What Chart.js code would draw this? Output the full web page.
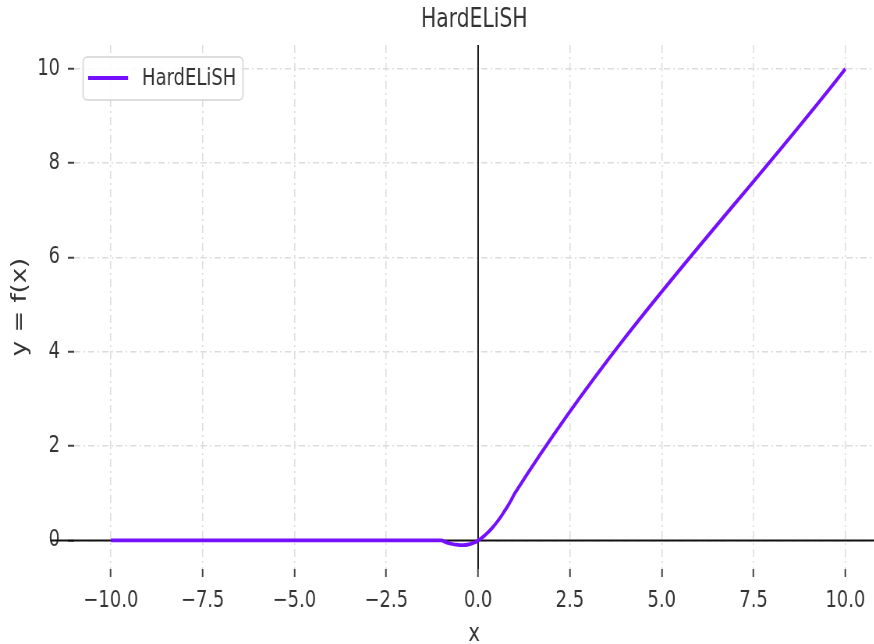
<!DOCTYPE html>
<html>
<head>
<meta charset="utf-8">
<script src="https://cdn.jsdelivr.net/npm/chart.js@4.4.1/dist/chart.umd.min.js"></script>
<style>
  html, body { margin: 0; padding: 0; background: #fff; overflow: hidden; }
  #wrap { width: 1121px; height: 644px; transform: scaleX(0.78); transform-origin: 0 0; }
</style>
</head>
<body>
<div id="wrap"><canvas id="c" width="1121" height="644"></canvas></div>
<script>
// ---- data ----
const seriesLabel = 'HardELiSH';
const xValues = [-10, -1, -0.9, -0.8, -0.7, -0.6, -0.5, -0.4, -0.3, -0.2, -0.1, 0,
                 0.1, 0.2, 0.3, 0.4, 0.5, 0.6, 0.7, 0.8, 0.9, 1, 10];
const yValues = [0, 0, -0.03, -0.055, -0.075, -0.09, -0.098, -0.099, -0.091, -0.073, -0.043, 0,
                 0.055, 0.12, 0.195, 0.28, 0.375, 0.48, 0.6, 0.72, 0.855, 1, 10];
const xTickValues = [-10, -7.5, -5, -2.5, 0, 2.5, 5, 7.5, 10];
const yTickValues = [0, 2, 4, 6, 8, 10];

const FONT = "'DejaVu Sans', 'Liberation Sans', sans-serif";
const lineColor = '#7510ff';

const refLines = {
  id: 'refLines',
  beforeDatasetsDraw(chart) {
    const { ctx, chartArea, scales } = chart;
    const y0 = scales.y.getPixelForValue(0);
    const x0 = scales.x.getPixelForValue(0);
    ctx.save();
    ctx.strokeStyle = '#111';
    ctx.lineWidth = 2;
    ctx.beginPath();
    ctx.moveTo(chartArea.left - 30, y0);
    ctx.lineTo(chartArea.right, y0);
    ctx.moveTo(x0, chartArea.top);
    ctx.lineTo(x0, chartArea.bottom);
    ctx.stroke();
    ctx.restore();
  }
};

const boxLegend = {
  id: 'boxLegend',
  afterDraw(chart) {
    const { ctx, chartArea } = chart;
    const ds = chart.data.datasets[0];
    const bx = chartArea.left + 11.5, by = chartArea.top + 12, bw = 205, bh = 43;
    ctx.save();
    ctx.fillStyle = 'rgba(255,255,255,0.85)';
    ctx.strokeStyle = '#d4d4d4';
    ctx.lineWidth = 1.5;
    ctx.beginPath();
    ctx.roundRect(bx, by, bw, bh, 5);
    ctx.fill();
    ctx.stroke();
    ctx.strokeStyle = ds.borderColor;
    ctx.lineWidth = 4;
    ctx.beginPath();
    ctx.moveTo(bx + 6.5, by + 21);
    ctx.lineTo(bx + 57.7, by + 21);
    ctx.stroke();
    ctx.fillStyle = '#333';
    ctx.font = '23px ' + FONT;
    ctx.textBaseline = 'middle';
    ctx.textAlign = 'left';
    ctx.fillText(ds.label, bx + 75.6, by + 22);
    ctx.restore();
  }
};

new Chart(document.getElementById('c'), {
  type: 'line',
  data: {
    datasets: [{
      label: seriesLabel,
      data: xValues.map((x, i) => ({ x: x, y: yValues[i] })),
      borderColor: lineColor,
      backgroundColor: lineColor,
      borderWidth: 3.8,
      pointRadius: 0,
      cubicInterpolationMode: 'monotone',
      fill: false
    }]
  },
  options: {
    responsive: false,
    devicePixelRatio: 1,
    animation: false,
    layout: { padding: { left: 0, right: 0, top: 0, bottom: 0 } },
    plugins: {
      legend: { display: false },
      tooltip: { enabled: false },
      title: {
        display: true,
        fullSize: false,
        text: 'HardELiSH',
        color: '#333',
        font: { family: FONT, size: 26, weight: 'normal' },
        padding: { top: 5, bottom: 8.8 }
      }
    },
    scales: {
      x: {
        type: 'linear',
        min: -11,
        max: 10.79,
        afterFit(scale) { scale.height = 75; },
        afterBuildTicks(scale) { scale.ticks = xTickValues.map(v => ({ value: v })); },
        ticks: {
          color: '#333',
          font: { family: FONT, size: 23 },
          padding: 10,
          maxRotation: 0,
          autoSkip: false,
          callback: v => (v < 0 ? '\u2212' + Math.abs(v).toFixed(1) : v.toFixed(1))
        },
        grid: {
          color: '#dcdcdc',
          lineWidth: 1.5,
          borderDash: [8, 4, 2, 4],
          tickColor: '#444',
          tickWidth: 2,
          tickLength: 8,
          tickBorderDash: []
        },
        border: { display: false, dash: [8, 4, 2, 4] },
        title: {
          display: true,
          text: 'x',
          color: '#333',
          font: { family: FONT, size: 25, lineHeight: 0.75 },
          padding: { top: 0, bottom: 0 }
        }
      },
      y: {
        type: 'linear',
        min: -0.605,
        max: 10.505,
        afterFit(scale) { scale.width = 95; },
        afterBuildTicks(scale) { scale.ticks = yTickValues.map(v => ({ value: v })); },
        ticks: {
          color: '#333',
          font: { family: FONT, size: 23 },
          padding: 10,
          autoSkip: false,
          callback: v => String(v)
        },
        grid: {
          color: '#dcdcdc',
          lineWidth: 1.5,
          borderDash: [8, 4, 2, 4],
          tickColor: '#444',
          tickWidth: 2,
          tickLength: 8,
          tickBorderDash: []
        },
        border: { display: false, dash: [8, 4, 2, 4] },
        title: {
          display: true,
          text: 'y = f(x)',
          color: '#333',
          font: { family: FONT, size: 26 },
          padding: { top: 11, bottom: 0 }
        }
      }
    }
  },
  plugins: [refLines, boxLegend]
});
</script>
</body>
</html>
